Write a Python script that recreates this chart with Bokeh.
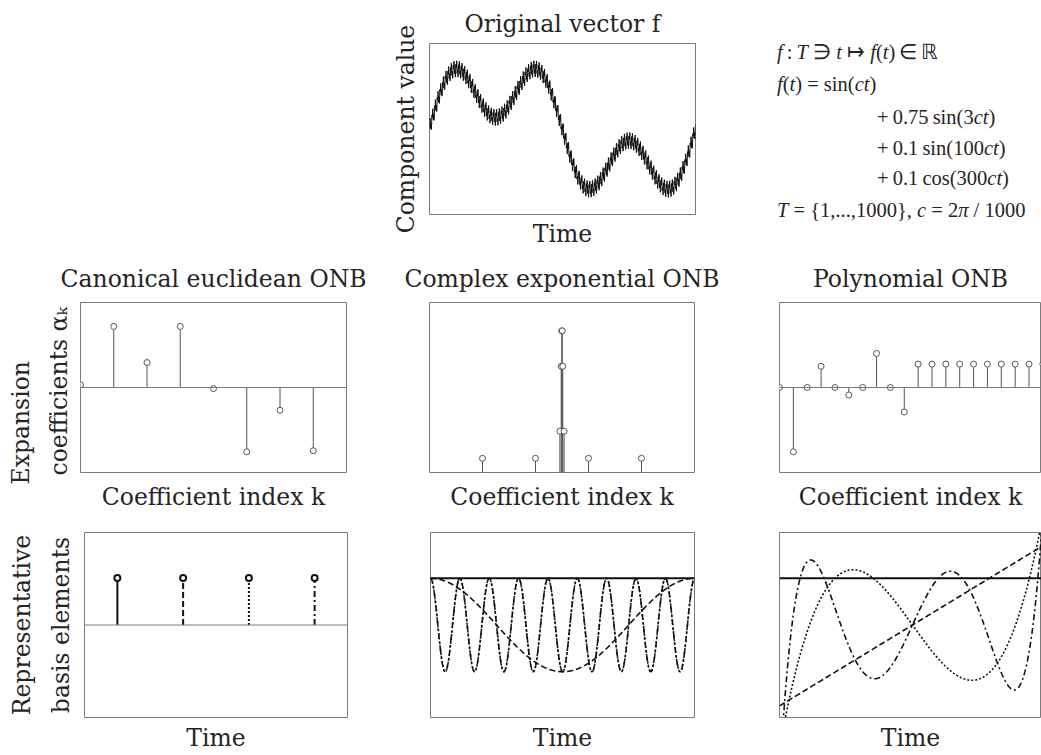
import numpy as np
from bokeh.plotting import figure
from bokeh.layouts import column, row
from bokeh.models import Title, Range1d, Span, Div
from bokeh.embed import file_html
from bokeh.resources import INLINE

SERIF = "DejaVu Serif"
EQ_FONT = "Liberation Serif"
TXT = "#252525"
FRAME = "#7a7a7a"
STEM = "#555555"

# ---- signal f(t) = sum of the four stated terms ----
TERM_AMPS = [1.0, 0.75, 0.1, 0.1]
TERM_FREQS = [1, 3, 100, 300]
TERM_FUNCS = ["sin", "sin", "sin", "cos"]
N_SAMPLES = 1000

# ---- expansion coefficients ----
CANON_K = [0, 1, 2, 3, 4, 5, 6, 7]
CANON_COEF = [0.05, 1.15, 0.47, 1.15, -0.02, -1.21, -0.43, -1.19]

FOURIER_K = [-300, -100, -8, -3, -1, 1, 3, 8, 100, 300]
FOURIER_MAG = [0.05, 0.05, 0.146, 0.375, 0.5, 0.5, 0.375, 0.146, 0.05, 0.05]

POLY_K = [0, 1, 2, 3, 4, 5, 6, 7, 8, 9, 10, 11, 12, 13, 14, 15, 16, 17, 18, 19]
POLY_COEF = [0.0, -1.21, 0.0, 0.40, 0.0, -0.14, 0.0, 0.64, 0.0, -0.46,
             0.44, 0.44, 0.44, 0.44, 0.44, 0.44, 0.44, 0.44, 0.44, 0.44]

# ---- representative basis elements ----
BASIS_DASH = ["solid", "6 3", "2 2", "6 3 2 3"]
CANON_BASIS_POS = [1, 3, 5, 7]
CANON_BASIS_VAL = [0.71, 0.71, 0.71, 0.71]
EXP_BASIS_FREQ = [0, 1, 9, 991]
POLY_BASIS_DEG = [0, 1, 3, 5]

# ---- definition of f, one entry per typeset line: (left, centre-y, html) ----
EQ_LINES = [
    (77, 52, "<i>f</i>&thinsp;:&thinsp;<i>T</i> &#8715; <i>t</i> &#8614; <i>f</i>(<i>t</i>)&thinsp;&#8712;&thinsp;&#8477;"),
    (77, 84, "<i>f</i>(<i>t</i>) = sin(<i>ct</i>)"),
    (177, 117, "+&thinsp;0.75&thinsp;sin(3<i>ct</i>)"),
    (177, 148, "+&thinsp;0.1&thinsp;sin(100<i>ct</i>)"),
    (177, 178, "+&thinsp;0.1&thinsp;cos(300<i>ct</i>)"),
    (77, 210, "<i>T</i> = {1,...,1000}, <i>c</i> = 2<i>&pi;</i> / 1000"),
]


def panel(w, h, left, right, top, bottom, xr, yr):
    p = figure(width=w, height=h, x_range=xr, y_range=yr,
               x_axis_type=None, y_axis_type=None,
               toolbar_location=None, output_backend="svg",
               min_border_left=left, min_border_right=right,
               min_border_top=top, min_border_bottom=bottom)
    p.outline_line_color = FRAME
    p.outline_line_width = 1
    p.background_fill_color = "white"
    p.border_fill_color = "white"
    return p


def add_text(p, text, side, standoff=4, size="23.5px", align="center", offset=0):
    t = Title(text=text, align=align, offset=offset, text_font=SERIF,
              text_font_size=size, text_font_style="normal",
              text_color=TXT, standoff=standoff)
    p.add_layout(t, side)
    return t


def stems(p, k, v, color=STEM, width=1, dash="solid", size=6, lw=1):
    p.segment(x0=k, y0=np.zeros(len(k)), x1=k, y1=v,
              line_color=color, line_width=width, line_dash=dash)
    p.scatter(k, v, marker="circle", size=size, fill_color="white",
              line_color=color, line_width=lw)


# ================= row 1: the signal and its definition =================
t = np.arange(1, N_SAMPLES + 1)
c = 2 * np.pi / N_SAMPLES
f = np.zeros(len(t))
for a, fr, fn in zip(TERM_AMPS, TERM_FREQS, TERM_FUNCS):
    f += a * (np.sin(fr * c * t) if fn == "sin" else np.cos(fr * c * t))

top = panel(700, 250, 429, 5, 43, 36, Range1d(1, N_SAMPLES), Range1d(-1.85, 1.85))
top.line(t, f, line_color="#111111", line_width=1)
add_text(top, "Original vector f", "above", standoff=12)
add_text(top, "Time", "below", standoff=6)
add_text(top, "Component value", "left", standoff=20)

eq_html = "".join(
    f'<div style="position:absolute;left:{x}px;top:{y - 12}px;line-height:24px;'
    f'white-space:nowrap;">{s}</div>'
    for x, y, s in EQ_LINES
)
eq = Div(
    text=(f'<div style="position:relative;width:341px;height:250px;'
          f'font-family:\'{EQ_FONT}\';font-size:20.5px;color:{TXT};">{eq_html}</div>'),
    width=341, height=250, margin=0,
)

# ================= row 2: expansion coefficients =================
c1 = panel(388, 270, 80, 42, 52, 48, Range1d(0, 8), Range1d(-1.6, 1.6))
c1.add_layout(Span(location=0, dimension="width", line_color=FRAME, line_width=1))
stems(c1, CANON_K, CANON_COEF)
add_text(c1, "Canonical euclidean ONB", "above", standoff=19)
add_text(c1, "Coefficient index k", "below", standoff=17)
add_text(c1, "coefficients \u03b1\u2096", "left", standoff=16, align="left", offset=-3)
add_text(c1, "Expansion", "left", standoff=0, align="left", offset=-12)

c2 = panel(349, 270, 41, 43, 52, 48, Range1d(-500, 500), Range1d(0, 0.6))
stems(c2, FOURIER_K, FOURIER_MAG)
add_text(c2, "Complex exponential ONB", "above", standoff=19)
add_text(c2, "Coefficient index k", "below", standoff=17)

c3 = panel(304, 270, 42, 0, 52, 48, Range1d(0, 18.9), Range1d(-1.6, 1.6))
c3.add_layout(Span(location=0, dimension="width", line_color=FRAME, line_width=1))
stems(c3, POLY_K, POLY_COEF)
add_text(c3, "Polynomial ONB", "above", standoff=19)
add_text(c3, "Coefficient index k", "below", standoff=17)

# ================= row 3: representative basis elements =================
b1 = panel(388, 235, 84, 41, 12, 36, Range1d(0, 8), Range1d(-1.4, 1.4))
b1.add_layout(Span(location=0, dimension="width", line_color=FRAME, line_width=1))
for pos, val, dash in zip(CANON_BASIS_POS, CANON_BASIS_VAL, BASIS_DASH):
    stems(b1, [pos], [val], color="#111111", width=2, dash=dash, size=6, lw=2)
add_text(b1, "Time", "below", standoff=8)
add_text(b1, "basis elements", "left", standoff=19)
add_text(b1, "Representative", "left", standoff=0)

n = np.arange(N_SAMPLES)
b2 = panel(349, 235, 42, 43, 12, 36, Range1d(0, N_SAMPLES - 1), Range1d(-1.4, 1.4))
for fr, dash in zip(EXP_BASIS_FREQ, BASIS_DASH):
    y = np.cos(2 * np.pi * fr * n / N_SAMPLES) / np.sqrt(2)
    b2.line(n, y, line_color="#111111", line_width=2 if dash == "solid" else 1.6,
            line_dash=dash)
add_text(b2, "Time", "below", standoff=8)

xs = np.linspace(-1, 1, 600)
b3 = panel(304, 235, 42, 0, 12, 36, Range1d(-1, 0.97), Range1d(-1.4, 1.4))
for deg, dash in zip(POLY_BASIS_DEG, BASIS_DASH):
    coeffs = np.zeros(deg + 1)
    coeffs[deg] = 1.0
    y = np.polynomial.legendre.legval(xs, coeffs) * np.sqrt((2 * deg + 1) / 2)
    b3.line(xs, y, line_color="#111111", line_width=2 if dash == "solid" else 1.6,
            line_dash=dash)
add_text(b3, "Time", "below", standoff=8)

layout = column(row(top, eq), row(c1, c2, c3), row(b1, b2, b3))
open("out.html", "w").write(file_html(layout, INLINE))
